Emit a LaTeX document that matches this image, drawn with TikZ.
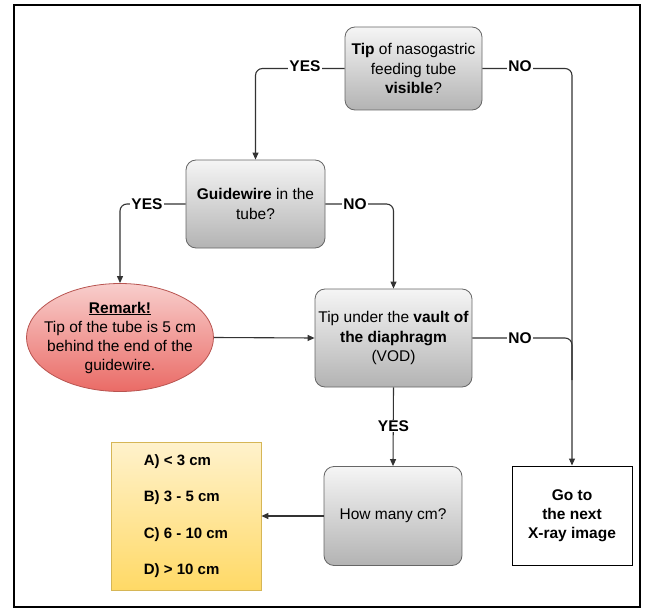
\documentclass[tikz,border=0pt]{standalone}
\usepackage{fontspec}
\setmainfont{Liberation Sans}
\usetikzlibrary{arrows.meta,shapes.geometric}

\definecolor{grayTop}{HTML}{F5F5F5}
\definecolor{grayBot}{HTML}{B3B3B3}
\definecolor{grayLine}{HTML}{666666}
\definecolor{redTop}{HTML}{F8CECC}
\definecolor{redBot}{HTML}{EA6B66}
\definecolor{redLine}{HTML}{B85450}
\definecolor{yelTop}{HTML}{FFF2CC}
\definecolor{yelBot}{HTML}{FFD966}
\definecolor{yelLine}{HTML}{D6B656}
\definecolor{lineClr}{HTML}{333333}

\tikzset{
  box/.style={draw=grayLine, line width=0.8pt, rounded corners=10pt,
    top color=grayTop, bottom color=grayBot, align=center, inner xsep=1pt,
    font=\fontsize{15.5}{19.5}\selectfont},
  conn/.style={draw=lineClr, line width=1.1pt, rounded corners=7pt,
    -{Triangle[length=7pt,width=6pt]}},
  lbl/.style={fill=white, inner sep=1pt, font=\bfseries\fontsize{15.5}{16}\selectfont}
}

\begin{document}
\begin{tikzpicture}[x=1pt, y=-1pt]
\useasboundingbox (0,0) rectangle (646,610);
\draw[line width=1.2pt] (14,5) rectangle (640,607);

\node[box, minimum width=137, minimum height=83] (T) at (413.5,68.5)
  {\textbf{Tip} of nasogastric\\feeding tube\\\textbf{visible}?};
\node[box, minimum width=139, minimum height=88] (G) at (255.5,204)
  {\textbf{Guidewire} in the\\tube?};
\node[ellipse, draw=redLine, line width=0.8pt, top color=redTop, bottom color=redBot,
  minimum width=187, minimum height=108, align=center, inner xsep=-12pt, inner ysep=-1pt,
  font=\fontsize{15.5}{19}\selectfont] (R) at (120,337.5)
  {\textbf{\underline{Remark!}}\\Tip of the tube is 5 cm\\behind the end of the\\guidewire.};
\node[box, minimum width=157, minimum height=98] (V) at (393.5,338)
  {Tip under the \textbf{vault of}\\\textbf{the diaphragm}\\(VOD)};
\node[box, minimum width=138, minimum height=99] (H) at (393,516)
  {How many cm?};
\node[draw=yelLine, line width=0.8pt, top color=yelTop, bottom color=yelBot,
  minimum width=150, minimum height=148, align=left,
  font=\bfseries\fontsize{15}{36.5}\selectfont] (L) at (186,516)
  {A) < 3 cm\\B) 3 - 5 cm\\C) 6 - 10 cm\\D) > 10 cm};
\node[draw, line width=1pt, fill=white, minimum width=120, minimum height=99,
  align=center, inner xsep=1pt, font=\bfseries\fontsize{15.5}{19}\selectfont] (N) at (572,515.5)
  {Go to\\the next\\X-ray image};
\coordinate (J) at (572,380);

\draw[conn] (T.west) -| (G.north);
\draw[conn] (T.east) -| (N.north);
\draw[conn] (G.west) -| (R.north);
\draw[conn] (G.east) -| (V.north);
\draw[conn] (R.east) -- (V.west);
\draw[conn, -] (V.east) -| (J);
\draw[conn] (V.south) -- (H.north);
\draw[conn] (H.west) -- (L.east);

\node[lbl] (y1) at (305,66) {YES};
\node[lbl] (n1) at (520,66) {NO};
\node[lbl] (y2) at (147,204) {YES};
\node[lbl] (n2) at (355,204) {NO};
\node[lbl] (n3) at (520,338) {NO};
\node[lbl] (y3) at (393.5,426) {YES};
\end{tikzpicture}
\end{document}
